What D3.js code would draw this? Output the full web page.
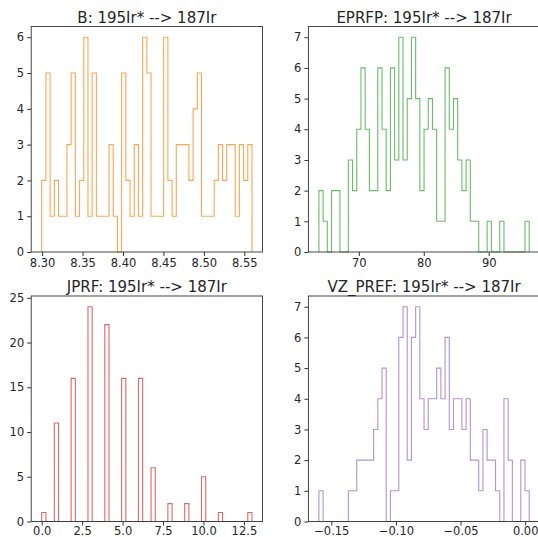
<!DOCTYPE html>
<html>
<head>
<meta charset="utf-8">
<script src="https://cdn.jsdelivr.net/npm/d3@7"></script>
<style>
  body { margin: 0; background: #fff; }
  .axisDark text { fill: #262626; font-family: "DejaVu Sans", sans-serif; font-size: 11.5px; }
  .axisDark line { stroke: #333; }
  .axisDark path { display: none; }
</style>
</head>
<body>
<div id="hist-grid"></div>
<script>
// bin counts, 50 bins each
var bCounts = [2, 5, 1, 2, 1, 1, 3, 5, 1, 2, 6, 1, 5, 1, 1, 1, 3, 1, 0, 5,
               2, 1, 3, 1, 6, 5, 1, 1, 1, 6, 2, 1, 3, 3, 3, 2, 4, 5, 1, 1,
               1, 2, 3, 2, 3, 3, 1, 3, 2, 3];
var eprfpCounts = [2, 1, 0, 2, 2, 0, 0, 3, 2, 4, 6, 4, 2, 2, 6, 4, 2, 6, 3, 7,
                   3, 5, 7, 5, 2, 4, 5, 4, 1, 1, 6, 4, 5, 3, 2, 3, 1, 1, 0, 0,
                   1, 0, 0, 1, 0, 0, 0, 0, 0, 1];
var jprfCounts = [1, 0, 0, 11, 0, 0, 0, 16, 0, 0, 0, 24, 0, 0, 0, 22, 0, 0, 0, 16,
                  0, 0, 0, 16, 0, 0, 6, 0, 0, 0, 2, 0, 0, 0, 2, 0, 0, 0, 5, 0,
                  0, 0, 1, 0, 0, 0, 0, 0, 0, 1];
var vzCounts = [1, 0, 0, 0, 0, 0, 0, 1, 1, 2, 2, 2, 2, 3, 4, 5, 0, 1, 1, 6,
                7, 2, 6, 7, 4, 3, 4, 4, 5, 4, 6, 3, 4, 4, 3, 4, 2, 2, 1, 3,
                2, 2, 1, 0, 4, 2, 0, 0, 2, 1];

// data ranges (first and last bin edge)
var bRange = [8.2995, 8.5595];
var eprfpRange = [63.86, 96.23];
var jprfRange = [0, 13];
var vzRange = [-0.1596, 0.0031];

var titles = ["B: 195Ir* --> 187Ir", "EPRFP: 195Ir* --> 187Ir",
              "JPRF: 195Ir* --> 187Ir", "VZ_PREF: 195Ir* --> 187Ir"];

var bXTicks = [8.30, 8.35, 8.40, 8.45, 8.50, 8.55];
var eprfpXTicks = [70, 80, 90];
var jprfXTicks = [0, 2.5, 5, 7.5, 10, 12.5];
var vzXTicks = [-0.15, -0.10, -0.05, 0.00];

var bYTicks = [0, 1, 2, 3, 4, 5, 6];
var eprfpYTicks = [0, 1, 2, 3, 4, 5, 6, 7];
var jprfYTicks = [0, 5, 10, 15, 20, 25];
var vzYTicks = [0, 1, 2, 3, 4, 5, 6, 7];

var panels = [
    { counts: bCounts, range: bRange, xTicks: bXTicks, yTicks: bYTicks, fmt: ".2f", color: "#ff7f0e", col: 0, row: 0 },
    { counts: eprfpCounts, range: eprfpRange, xTicks: eprfpXTicks, yTicks: eprfpYTicks, fmt: "d", color: "#2ca02c", col: 1, row: 0 },
    { counts: jprfCounts, range: jprfRange, xTicks: jprfXTicks, yTicks: jprfYTicks, fmt: ".1f", color: "#d62728", col: 0, row: 1 },
    { counts: vzCounts, range: vzRange, xTicks: vzXTicks, yTicks: vzYTicks, fmt: ".2f", color: "#9467bd", col: 1, row: 1 }
];

var colLeft = [31.2, 308.4],
    rowTop = [26.5, 296],
    width = 231.3,
    height = 225.5;

var svg = d3.select("#hist-grid")
    .append("svg")
    .attr("width", 538)
    .attr("height", 537);

panels.forEach(function (p, i) {
    var g = svg.append("g")
        .attr("transform", "translate(" + colLeft[p.col] + "," + rowTop[p.row] + ")");

    var n = p.counts.length;
    var span = p.range[1] - p.range[0];
    var edges = d3.range(n + 1).map(function (k) { return p.range[0] + span * k / n; });

    var x = d3.scaleLinear()
        .domain([p.range[0] - 0.05 * span, p.range[1] + 0.05 * span])
        .range([0, width]);

    var yMax = d3.max(p.counts) * 1.05;
    var y = d3.scaleLinear()
        .domain([0, yMax])
        .range([height, 0]);

    // step outline like histtype='step'
    var pts = [[edges[0], 0]];
    p.counts.forEach(function (c, k) { pts.push([edges[k], c]); });
    pts.push([edges[n], 0]);

    var step = d3.line()
        .x(function (d) { return x(d[0]); })
        .y(function (d) { return y(d[1]); })
        .curve(d3.curveStepAfter);

    g.append("path")
        .datum(pts)
        .attr("fill", "none")
        .attr("stroke", p.color)
        .attr("stroke-opacity", 0.7)
        .attr("stroke-width", 1.1)
        .attr("d", step);

    // bottom row labels sit right at the page edge, so pad them less
    var pad = p.row == 1 ? 1 : 3;
    g.append("g")
        .attr("class", "axisDark")
        .attr("transform", "translate(0," + height + ")")
        .call(d3.axisBottom(x).tickValues(p.xTicks).tickFormat(d3.format(p.fmt)).tickSize(4).tickPadding(pad));

    g.append("g")
        .attr("class", "axisDark")
        .call(d3.axisLeft(y).tickValues(p.yTicks).tickFormat(d3.format("d")).tickSize(4).tickPadding(3));

    g.append("rect")
        .attr("width", width)
        .attr("height", height)
        .attr("fill", "none")
        .attr("stroke", "#333")
        .attr("stroke-width", 0.9);

    g.append("text")
        .attr("x", width / 2)
        .attr("y", -4)
        .attr("fill", "#262626")
        .style("font-family", "DejaVu Sans, sans-serif")
        .style("font-size", "15px")
        .style("text-anchor", "middle")
        .text(titles[i]);
});
</script>
</body>
</html>
